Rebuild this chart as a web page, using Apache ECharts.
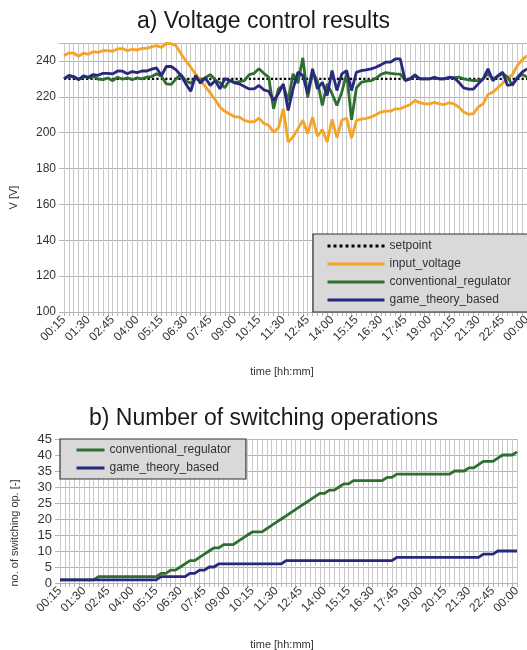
<!DOCTYPE html>
<html>
<head>
<meta charset="utf-8">
<script src="https://cdn.jsdelivr.net/npm/echarts@6/dist/echarts.min.js"></script>
<style>
html,body{margin:0;padding:0;background:#fff;}
#chart{width:527px;height:650px;}
</style>
</head>
<body>
<div id="chart"></div>
<script>
// ---- Data ----
var times = ['00:15','00:30','00:45','01:00','01:15','01:30','01:45','02:00','02:15','02:30','02:45','03:00',
'03:15','03:30','03:45','04:00','04:15','04:30','04:45','05:00','05:15','05:30','05:45','06:00',
'06:15','06:30','06:45','07:00','07:15','07:30','07:45','08:00','08:15','08:30','08:45','09:00',
'09:15','09:30','09:45','10:00','10:15','10:30','10:45','11:00','11:15','11:30','11:45','12:00',
'12:15','12:30','12:45','13:00','13:15','13:30','13:45','14:00','14:15','14:30','14:45','15:00',
'15:15','15:30','15:45','16:00','16:15','16:30','16:45','17:00','17:15','17:30','17:45','18:00',
'18:15','18:30','18:45','19:00','19:15','19:30','19:45','20:00','20:15','20:30','20:45','21:00',
'21:15','21:30','21:45','22:00','22:15','22:30','22:45','23:00','23:15','23:30','23:45','00:00'];

var setpoint = [230,230,230,230,230,230,230,230,230,230,230,230,230,230,230,230,230,230,230,230,230,230,230,230,
230,230,230,230,230,230,230,230,230,230,230,230,230,230,230,230,230,230,230,230,230,230,230,230,
230,230,230,230,230,230,230,230,230,230,230,230,230,230,230,230,230,230,230,230,230,230,230,230,
230,230,230,230,230,230,230,230,230,230,230,230,230,230,230,230,230,230,230,230,230,230,230,230];

var inputVoltage = [243.0,244.4,244.3,242.6,244.4,243.7,245.2,244.8,245.7,245.7,
245.4,246.7,246.9,245.7,246.5,246.1,247.0,247.0,248.0,248.5,
247.6,249.8,249.6,248.5,244.0,240.0,236.5,232.8,229.0,225.7,
222.2,218.5,214.3,211.9,210.4,208.9,208.7,206.9,206.1,206.0,
208.1,205.2,204.1,200.2,202.6,213.3,194.8,197.6,202.2,206.9,
199.4,208.7,198.0,201.7,194.8,207.4,197.2,206.9,208.1,197.0,
206.9,207.6,208.0,208.7,210.0,211.5,212.0,212.0,213.3,213.3,
214.6,215.6,218.0,216.7,216.1,216.1,216.9,216.1,215.7,216.7,
216.1,214.3,211.5,210.2,210.6,214.3,216.1,221.3,222.6,225.0,
227.6,230.4,232.4,237.4,240.5,243.0];

var conventional = [230.0,231.5,231.0,229.6,231.2,230.5,231.5,229.8,229.6,230.5,
229.0,230.9,229.8,230.6,229.5,230.6,230.0,231.0,231.3,232.8,
231.5,227.2,226.9,230.0,232.4,229.0,227.6,230.2,229.0,230.6,
232.4,229.6,227.8,225.0,229.4,228.0,228.5,229.0,232.4,233.1,
235.6,233.1,230.9,213.3,224.4,226.3,218.0,232.8,227.6,241.7,
219.6,233.7,229.0,215.2,227.2,221.7,215.2,222.6,233.1,207.2,
225.0,228.1,228.7,229.0,230.4,232.4,233.5,233.1,232.8,232.6,
229.5,230.0,231.5,230.0,230.0,230.0,230.5,230.0,230.0,230.5,
230.5,231.0,230.0,229.5,229.0,229.0,230.0,233.0,230.0,231.5,
233.0,231.0,226.5,230.5,232.5,231.0];

var gameTheory = [230.0,231.9,231.3,229.6,231.7,230.9,232.4,232.0,233.1,233.1,
232.8,234.4,234.3,232.8,234.1,233.5,234.4,234.4,235.4,236.1,
231.9,236.9,236.9,235.0,231.9,227.2,223.1,231.9,227.6,230.6,
226.3,229.0,224.4,230.2,229.0,227.8,227.2,225.7,224.4,224.4,
226.3,223.9,223.1,218.0,221.7,227.2,212.4,224.4,233.7,231.9,
221.7,235.6,224.4,228.1,220.7,234.6,223.5,232.8,234.6,223.5,
233.7,234.6,235.0,235.6,236.5,237.8,239.3,239.3,241.1,241.1,
229.0,230.0,232.2,230.0,230.0,230.0,230.9,230.0,230.0,230.9,
230.6,228.1,225.0,224.3,224.3,227.2,230.0,235.6,229.0,231.7,
233.7,226.3,226.9,230.6,233.7,235.6];

var convSwitch = [1,1,1,1,1,1,1,1,2,2,2,2,2,2,2,2,2,2,2,2,
2,3,3,4,4,5,6,7,7,8,9,10,11,11,12,12,12,13,14,15,
16,16,16,17,18,19,20,21,22,23,24,25,26,27,28,28,29,29,30,31,
31,32,32,32,32,32,32,32,33,33,34,34,34,34,34,34,34,34,34,34,
34,34,35,35,35,36,36,37,38,38,38,39,40,40,40,41];

var gameSwitch = [1,1,1,1,1,1,1,1,1,1,1,1,1,1,1,1,1,1,1,1,
1,2,2,2,2,2,2,3,3,4,4,5,5,6,6,6,6,6,6,6,
6,6,6,6,6,6,6,7,7,7,7,7,7,7,7,7,7,7,7,7,
7,7,7,7,7,7,7,7,7,7,8,8,8,8,8,8,8,8,8,8,
8,8,8,8,8,8,8,8,9,9,9,10,10,10,10,10];

var voltTicks = {min: 100, max: 250, interval: 20};
var switchTicks = {min: 0, max: 45, interval: 5};

// ---- Style ----
var FONT = 'Liberation Sans';
var C_ORANGE = '#f5a425', C_GREEN = '#2f6e31', C_NAVY = '#28287f';
var TXT = '#333333';

function xAxisCfg(gridIndex, gap, shift) {
  return {
    type: 'category', gridIndex: gridIndex, data: times, boundaryGap: false,
    axisLine: {show: true, lineStyle: {color: '#b3b3b3', width: 1}},
    axisTick: {show: true, interval: 0, length: 4, lineStyle: {color: '#b3b3b3'}},
    axisLabel: {interval: 4, rotate: 45, fontSize: 12, color: TXT, fontFamily: FONT, margin: 6},
    splitLine: {show: true, interval: 0, lineStyle: {color: '#c8c8c8', width: 1}},
    name: 'time [hh:mm]', nameLocation: 'middle', nameGap: gap,
    nameTextStyle: {fontSize: 11, color: TXT, fontFamily: FONT, padding: [0, shift, 0, 0]}
  };
}

var legendItemStyle = {opacity: 0};
var legendLineStyle = {width: 3};

var option = {
  animation: false,
  backgroundColor: '#ffffff',
  textStyle: {fontFamily: FONT},
  title: [
    {text: 'a) Voltage control results', left: 'center', top: 5,
     textStyle: {fontSize: 23, fontWeight: 'normal', color: '#1a1a1a', fontFamily: FONT}},
    {text: 'b) Number of switching operations', left: 'center', top: 402,
     textStyle: {fontSize: 23, fontWeight: 'normal', color: '#1a1a1a', fontFamily: FONT}}
  ],
  legend: [
    {
      data: ['setpoint', 'input_voltage', 'conventional_regulator', 'game_theory_based'],
      orient: 'vertical', left: 313, top: 234,
      itemWidth: 57, itemHeight: 14, itemGap: 6,
      padding: [6, 40, 6, 13],
      backgroundColor: '#d9d9d9', borderColor: '#333333', borderWidth: 1.2,
      itemStyle: legendItemStyle, lineStyle: legendLineStyle,
      textStyle: {fontSize: 12, color: TXT, fontFamily: FONT},
      selectedMode: false
    },
    {
      data: ['conventional_regulator', 'game_theory_based'],
      orient: 'vertical', left: 60, top: 439,
      itemWidth: 28, itemHeight: 14, itemGap: 6,
      padding: [5, 15, 5, 15],
      backgroundColor: '#d9d9d9', borderColor: '#333333', borderWidth: 1.2,
      itemStyle: legendItemStyle, lineStyle: legendLineStyle,
      textStyle: {fontSize: 12, color: TXT, fontFamily: FONT},
      selectedMode: false
    }
  ],
  grid: [
    {left: 64, right: 0, top: 43, bottom: 338, containLabel: false, outerBoundsMode: 'none'},
    {left: 60, right: 10, top: 439, bottom: 67, containLabel: false, outerBoundsMode: 'none'}
  ],
  xAxis: [xAxisCfg(0, 54, 27), xAxisCfg(1, 56, 13)],
  yAxis: [
    {
      type: 'value', gridIndex: 0, min: voltTicks.min, max: voltTicks.max, interval: voltTicks.interval,
      axisLine: {show: false},
      axisTick: {show: true, length: 5, lineStyle: {color: '#b3b3b3'}},
      axisLabel: {fontSize: 12, color: TXT, fontFamily: FONT, margin: 8,
        formatter: function (v) { return v === 250 ? '' : String(v); }},
      splitLine: {show: true, lineStyle: {color: '#b3b3b3', width: 1}},
      name: 'V [V]', nameLocation: 'middle', nameGap: 45, nameRotate: 90,
      nameTextStyle: {fontSize: 11, color: TXT, fontFamily: FONT, padding: [0, 40, 0, 0]}
    },
    {
      type: 'value', gridIndex: 1, min: switchTicks.min, max: switchTicks.max, interval: switchTicks.interval,
      axisLine: {show: false},
      axisTick: {show: true, length: 5, lineStyle: {color: '#b3b3b3'}},
      axisLabel: {fontSize: 13, color: TXT, fontFamily: FONT, margin: 8},
      splitLine: {show: true, lineStyle: {color: '#b3b3b3', width: 1}},
      name: 'no. of switching op. [-]', nameLocation: 'middle', nameGap: 40, nameRotate: 90,
      nameTextStyle: {fontSize: 11, color: TXT, fontFamily: FONT, padding: [0, 44, 0, 0]}
    }
  ],
  series: [
    {name: 'setpoint', type: 'line', xAxisIndex: 0, yAxisIndex: 0, data: setpoint,
     symbol: 'none', lineStyle: {color: '#000000', width: 2.2, type: 'dotted'}, itemStyle: {color: '#000000'}},
    {name: 'input_voltage', type: 'line', xAxisIndex: 0, yAxisIndex: 0, data: inputVoltage,
     symbol: 'none', lineStyle: {color: C_ORANGE, width: 2.8}, itemStyle: {color: C_ORANGE}},
    {name: 'conventional_regulator', type: 'line', xAxisIndex: 0, yAxisIndex: 0, data: conventional,
     symbol: 'none', lineStyle: {color: C_GREEN, width: 2.8}, itemStyle: {color: C_GREEN}},
    {name: 'game_theory_based', type: 'line', xAxisIndex: 0, yAxisIndex: 0, data: gameTheory,
     symbol: 'none', lineStyle: {color: C_NAVY, width: 2.8}, itemStyle: {color: C_NAVY}},
    {name: 'conventional_regulator', type: 'line', xAxisIndex: 1, yAxisIndex: 1, data: convSwitch,
     symbol: 'none', lineStyle: {color: C_GREEN, width: 2.8}, itemStyle: {color: C_GREEN}},
    {name: 'game_theory_based', type: 'line', xAxisIndex: 1, yAxisIndex: 1, data: gameSwitch,
     symbol: 'none', lineStyle: {color: C_NAVY, width: 2.8}, itemStyle: {color: C_NAVY}}
  ]
};

var chart = echarts.init(document.getElementById('chart'), null, {renderer: 'canvas'});
chart.setOption(option);
</script>
</body>
</html>
